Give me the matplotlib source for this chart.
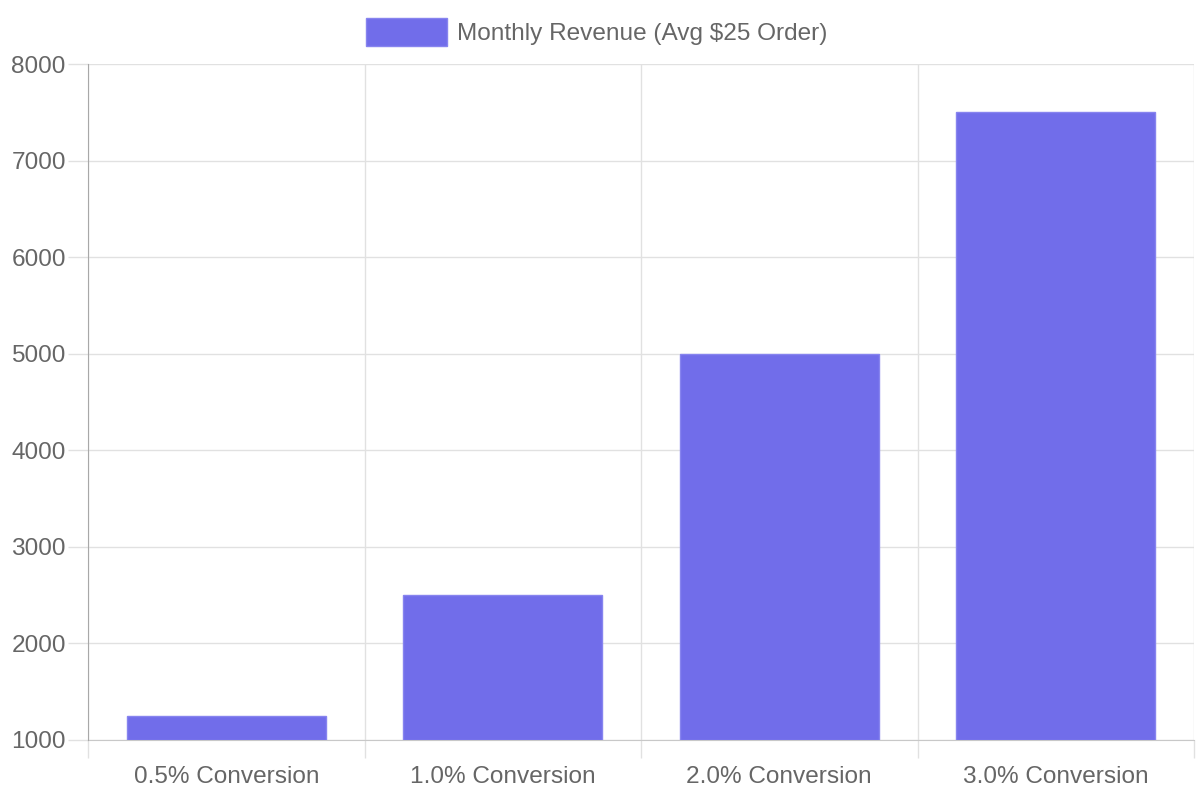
import matplotlib.pyplot as plt
import numpy as np

plt.rcParams['font.family'] = ['Liberation Sans', 'DejaVu Sans']

categories = ["0.5% Conversion", "1.0% Conversion", "2.0% Conversion", "3.0% Conversion"]
revenue = [1250, 2500, 5000, 7500]
series_label = "Monthly Revenue (Avg $25 Order)"
y_ticks = [1000, 2000, 3000, 4000, 5000, 6000, 7000, 8000]

text_col = "#666666"
grid_col = "#e1e1e1"
fs = 17.6

fig = plt.figure(figsize=(12, 8), dpi=100)
ax = fig.add_axes([88 / 1200, 1 - 740 / 800, (1194 - 88) / 1200, (740 - 64) / 800])

x = np.arange(len(categories))
bottom = y_ticks[0]
ax.bar(x, np.array(revenue) - bottom, bottom=bottom, width=0.72,
       color="#716dea", edgecolor="#8784ef", linewidth=1, zorder=3,
       label=series_label)

ax.set_xlim(-0.5, len(categories) - 0.5)
ax.set_ylim(y_ticks[0], y_ticks[-1])
ax.set_yticks(y_ticks)
ax.set_yticklabels([str(t) for t in y_ticks])

# category labels centred, grid lines on category boundaries
ax.set_xticks(x)
ax.set_xticklabels(categories)
ax.set_xticks(np.arange(len(categories) + 1) - 0.5, minor=True)
ax.tick_params(axis='x', which='major', length=0, pad=19, labelsize=fs, labelcolor=text_col)
ax.tick_params(axis='x', which='minor', length=13, color=grid_col, width=1)
ax.tick_params(axis='y', length=14.5, color=grid_col, width=1, pad=1.5, labelsize=fs, labelcolor=text_col)

ax.grid(axis='y', color=grid_col, linewidth=1, zorder=0)
ax.grid(axis='x', which='minor', color=grid_col, linewidth=1, zorder=0)

for s in ['top', 'right']:
    ax.spines[s].set_visible(False)
ax.spines['left'].set_color('#a8a8a8')
ax.spines['bottom'].set_color('#c8c8c8')
ax.spines['left'].set_zorder(4)

fig.legend(loc='upper center', bbox_to_anchor=(0.497, 1 - 18 / 800), frameon=False,
           fontsize=fs, labelcolor=text_col, handlelength=80 / 24, handleheight=24 / fs,
           handletextpad=0.4, borderpad=0, borderaxespad=0)

fig.savefig("out.png", dpi=100)
